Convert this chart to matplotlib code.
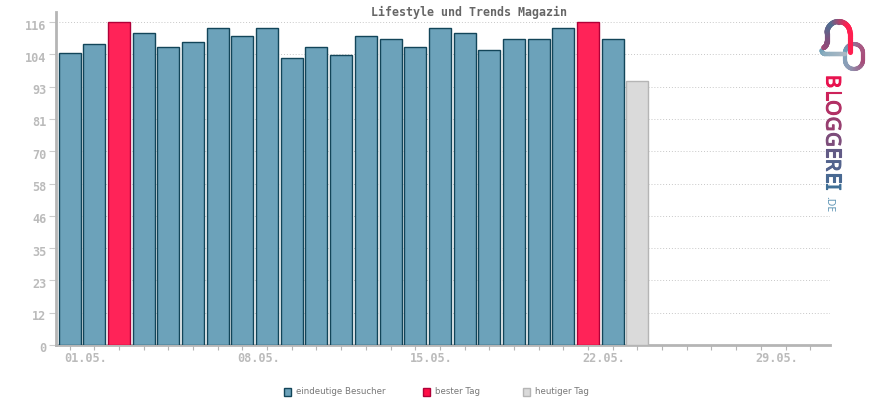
import numpy as np
import matplotlib
matplotlib.use("Agg")
import matplotlib.pyplot as plt
import matplotlib.patheffects as pe
from matplotlib.patches import Rectangle
from matplotlib.collections import LineCollection
from matplotlib.transforms import ScaledTranslation
from matplotlib.colors import LinearSegmentedColormap, to_rgba

title = "Lifestyle und Trends Magazin"
days = list(range(1, 25))
visitors = [105, 108, 116, 112, 107, 109, 114, 111, 114, 103, 107, 104,
            111, 110, 107, 114, 112, 106, 110, 110, 114, 116, 110, 95]
best_days = [3, 22]
today = 24
ytick_values = [0, 11.6, 23.2, 34.8, 46.4, 58, 69.6, 81.2, 92.8, 104.4, 116]
ytick_labels = ["0", "12", "23", "35", "46", "58", "70", "81", "93", "104", "116"]
xtick_days = [1, 8, 15, 22, 29]
xtick_labels = ["01.05.", "08.05.", "15.05.", "22.05.", "29.05."]
legend_labels = ["eindeutige Besucher", "bester Tag", "heutiger Tag"]
logo_word = "BLOGGEREI"
logo_suffix = ".DE"

BLUE, BLUE_E = "#6ca2ba", "#124559"
RED, RED_E = "#ff2358", "#b00038"
GREY, GREY_E = "#dadada", "#b5b5b5"
AXIS = "#b5b5b5"
TXT = "#bbbbbb"

W, H = 870, 400
fig = plt.figure(figsize=(W / 100, H / 100), dpi=100, facecolor="white")
L, R, B, T = 56, 830, 345, 12
ax = fig.add_axes([L / W, (H - B) / H, (R - L) / W, (B - T) / H])
ax.set_xlim(0.45, 31.8)
ax.set_ylim(0, (B - T) / 2.784)

for s in ("top", "right"):
    ax.spines[s].set_visible(False)
for s in ("left", "bottom"):
    ax.spines[s].set_color(AXIS)
    ax.spines[s].set_linewidth(2.0)
ax.set_axisbelow(True)
ax.yaxis.grid(True, color="#c8c8c8", linestyle=(0, (1, 2)), linewidth=0.7)

for d, v in zip(days, visitors):
    if d == today:
        fc, ec = GREY, GREY_E
    elif d in best_days:
        fc, ec = RED, RED_E
    else:
        fc, ec = BLUE, BLUE_E
    ax.bar(d, v, width=0.89, facecolor=fc, edgecolor=ec, linewidth=1.0, zorder=3)

mono = "DejaVu Sans Mono"
ax.set_yticks(ytick_values)
ax.set_yticklabels(ytick_labels, family=mono, fontweight="bold", fontsize=8.6, color=TXT)
ax.set_xticks(xtick_days)
ax.set_xticklabels(xtick_labels, family=mono, fontweight="bold", fontsize=8.6, color=TXT, ha="left")
ax.set_xticks(np.arange(1, 32), minor=True)
ax.tick_params(axis="y", length=5, width=0.8, color="#cccccc", pad=2)
ax.tick_params(axis="x", which="both", length=3.5, width=0.8, color=AXIS, pad=1.5)
dx = ScaledTranslation(-5.5 / 100, 0, fig.dpi_scale_trans)
for t in ax.get_xticklabels():
    t.set_transform(t.get_transform() + dx)
dy = ScaledTranslation(0, -2.5 / 100, fig.dpi_scale_trans)
for t in ax.get_yticklabels():
    t.set_transform(t.get_transform() + dy)

# overlay in pixel coordinates
ov = fig.add_axes([0, 0, 1, 1], facecolor="none")
ov.set_xlim(0, W)
ov.set_ylim(H, 0)
ov.axis("off")

ov.text(469, 12, title, family=mono, fontweight="bold", fontsize=8.4,
        color="#666666", ha="center", va="center")

for x, lab, fc, ec in zip([284, 423, 523], legend_labels,
                          [BLUE, "#ff0f47", GREY], [BLUE_E, RED_E, GREY_E]):
    ov.add_patch(Rectangle((x, 388), 7.5, 7.5, facecolor=fc, edgecolor=ec, linewidth=1.0))
    ov.text(x + 12, 392, lab, fontsize=6.2, color="#777777", ha="left", va="center",
            family="DejaVu Sans")


# logo
def arc(cx, cy, rx, ry, a0, a1, n=40):
    a = np.radians(np.linspace(a0, a1, n))
    return np.column_stack([cx + rx * np.cos(a), cy + ry * np.sin(a)])


def line(p0, p1, n=12):
    return np.linspace(p0, p1, n)


def stroke(xy, stops, lw):
    t = np.linspace(0, 1, len(xy) - 1)
    cols = LinearSegmentedColormap.from_list("s", stops)(t)
    segs = np.stack([xy[:-1], xy[1:]], axis=1)
    ov.add_collection(LineCollection(segs, colors=cols, linewidths=lw, capstyle="round"))


small = np.vstack([line((845, 52), (845, 60)), arc(854, 60, 9, 9, 180, 0),
                   line((863, 60), (863, 53)), arc(854, 53, 9, 9, 0, -180)])
stroke(small, ["#7fa6bd", "#8d9cb6", "#a84a78", "#a85a84", "#6ca2ba"], 3.0)
base = np.vstack([arc(825, 47, 4, 7, 150, 90, 12), line((825, 54), (845, 54))])
stroke(base, ["#6ca2ba", "#a9b8c4"], 3.2)
big = np.vstack([arc(822, 42, 5, 6, 70, 0, 14), line((827, 42), (827, 33)),
                 arc(838.5, 33, 11.5, 11.5, 180, 360), line((850, 33), (850, 52))])
stroke(big, ["#a04a78", "#80507e", "#4f6f92", "#ff1f50", "#ff1f50"], 3.7)

cmap = LinearSegmentedColormap.from_list("logo", ["#e8134f", "#a03a6c", "#5a5f8a", "#3f6f96"])
colors = cmap(np.linspace(0.0, 1.0, len(logo_word)))
centres = [81.5, 95, 108, 124, 139.5, 152.5, 165, 177.5, 187]
for ch, c, y in zip(logo_word, colors, centres):
    ov.text(831.5, y, ch, rotation=-90, fontsize=14.5, family="Noto Sans",
            color=c, ha="center", va="center",
            path_effects=[pe.withStroke(linewidth=0.8, foreground=to_rgba(c))])
ov.text(829, 204, logo_suffix, rotation=-90, fontsize=7.5, color="#5f95b5",
        ha="center", va="center", family="Noto Sans")

fig.savefig("out.png", dpi=100)
